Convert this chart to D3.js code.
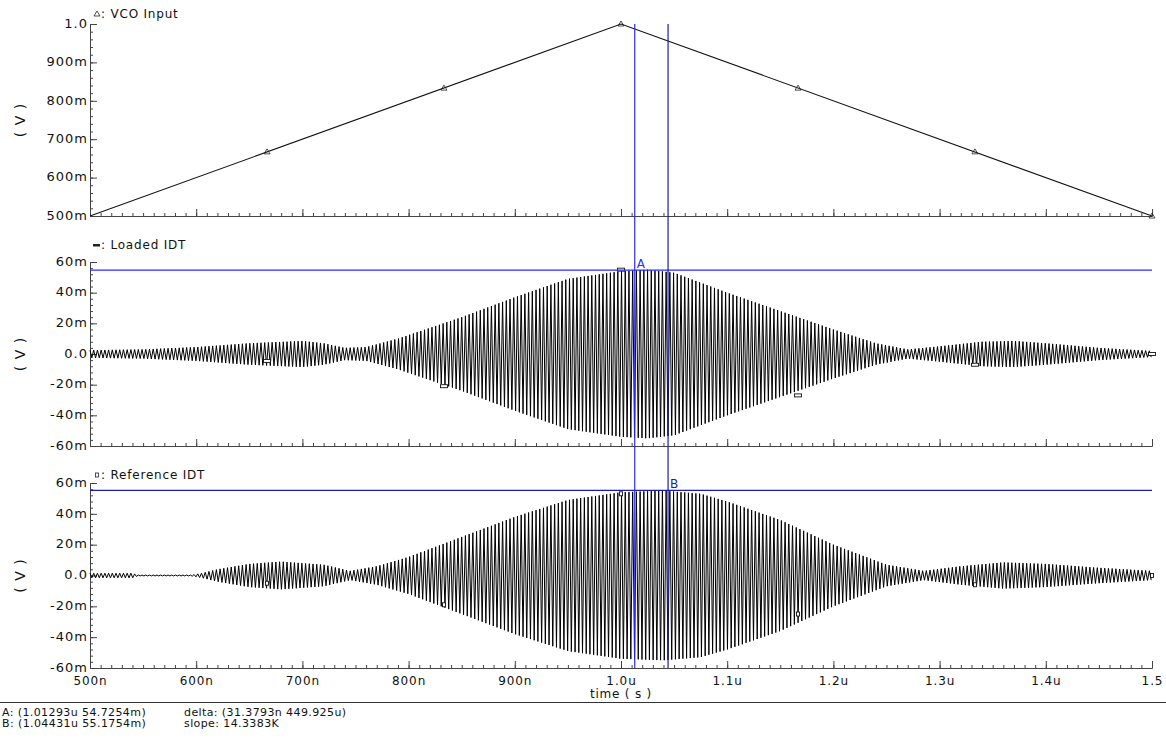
<!DOCTYPE html>
<html>
<head>
<meta charset="utf-8">
<script src="https://cdn.jsdelivr.net/npm/d3@7"></script>
<style>
  body { margin: 0; background: #fff; }
  svg text { font-family: "DejaVu Sans", sans-serif; fill: #111; }
</style>
</head>
<body>
<div id="chart"></div>
<script>
// time axis, in ns
const timeTicks = [500, 600, 700, 800, 900, 1000, 1100, 1200, 1300, 1400, 1500];
const timeLabels = ["500n", "600n", "700n", "800n", "900n", "1.0u", "1.1u", "1.2u", "1.3u", "1.4u", "1.5"];

// VCO Input (V)
const vcoTime = [500, 1000, 1500];
const vcoVolt = [0.5, 1.0, 0.5];
const vcoTicks = [0.5, 0.6, 0.7, 0.8, 0.9, 1.0];
const vcoLabels = ["500m", "600m", "700m", "800m", "900m", "1.0"];

// marker positions shared by the three traces
const markTime = [666.7, 833.3, 1000, 1166.7, 1333.3, 1500];
const vcoMarkVal = [0.667, 0.833, 1.0, 0.833, 0.667, 0.5];

// IDT axes (mV)
const idtTicks = [-60, -40, -20, 0, 20, 40, 60];
const idtLabels = ["-60m", "-40m", "-20m", "0.0", "20m", "40m", "60m"];

// Loaded IDT envelope (mV)
const loadedEnvTime = [500, 550, 600, 650, 700, 720, 740, 760, 790, 820, 850, 900, 950, 1000, 1025, 1050, 1100, 1150, 1200, 1240, 1270, 1300, 1340, 1370, 1400, 1450, 1500];
const loadedEnv =     [2.5, 3, 4.5, 7, 8.5, 7, 4, 4.5, 10, 17, 24, 37, 49, 54, 55, 53, 40, 28, 16, 7, 3, 5, 8, 8.5, 7, 4, 2];
const loadedMarkVal = [-4.5, -21, 55, -27, -7, 0];

// Reference IDT envelope (mV)
const refEnvTime = [500, 540, 545, 595, 605, 620, 650, 680, 720, 745, 770, 800, 850, 900, 950, 1000, 1040, 1075, 1100, 1150, 1200, 1250, 1285, 1320, 1360, 1400, 1450, 1500];
const refEnv =     [1.5, 1.5, 0.3, 0.3, 1.5, 4, 7.5, 9, 7, 3, 6, 12, 25, 38, 49, 54, 55, 53, 48, 36, 20, 7, 3, 6, 8.5, 7.5, 5, 3];
const refMarkVal = [-5, -19, 53, -25, -6, 0];

const carrierPeriod = 3.5; // ns, carrier drawn from the envelopes

// cursors
const cursorA = { t: 1012.93, v: 54.7254 };
const cursorB = { t: 1044.31, v: 55.1754 };
const cursorText = [
  ["A: (1.01293u 54.7254m)", "delta: (31.3793n 449.925u)"],
  ["B: (1.04431u 55.1754m)", "slope: 14.3383K"]
];

const width = 1166, height = 738;
const svg = d3.select("#chart").append("svg")
  .attr("width", width).attr("height", height);

const x = d3.scaleLinear().domain([500, 1500]).range([90, 1152]);

const panels = [
  { name: "VCO Input", domain: [0.5, 1.0], range: [216, 24], ticks: vcoTicks, labels: vcoLabels, minor: 0.02, titleY: 18, sym: "tri" },
  { name: "Loaded IDT", domain: [-60, 60], range: [446, 262], ticks: idtTicks, labels: idtLabels, minor: 4, titleY: 249, sym: "dash" },
  { name: "Reference IDT", domain: [-60, 60], range: [668, 483], ticks: idtTicks, labels: idtLabels, minor: 4, titleY: 479, sym: "box" }
];
panels.forEach(p => { p.y = d3.scaleLinear().domain(p.domain).range(p.range); });

const axisColor = "#444";
const minorX = d3.range(500, 1500.1, 10);

panels.forEach((p, pi) => {
  const g = svg.append("g");
  const last = pi === panels.length - 1;

  // x axis: minor then major ticks pointing up
  g.append("g").attr("transform", `translate(0,${p.range[0]})`)
    .call(d3.axisBottom(x).tickValues(minorX).tickSize(-3).tickSizeOuter(0).tickFormat(""));
  const xa = g.append("g").attr("transform", `translate(0,${p.range[0]})`)
    .call(d3.axisBottom(x).tickValues(timeTicks).tickSize(-7).tickSizeOuter(0).tickPadding(8)
      .tickFormat((d, i) => last ? timeLabels[i] : ""));
  xa.selectAll("text").style("font-size", "12px").style("letter-spacing", "0.9px");

  // y axis
  const minorY = d3.range(p.domain[0], p.domain[1] + p.minor / 2, p.minor);
  g.append("g").attr("transform", `translate(${x.range()[0]},0)`)
    .call(d3.axisLeft(p.y).tickValues(minorY).tickSize(-3).tickSizeOuter(0).tickFormat(""));
  const ya = g.append("g").attr("transform", `translate(${x.range()[0]},0)`)
    .call(d3.axisLeft(p.y).tickValues(p.ticks).tickSize(-7).tickSizeOuter(0).tickPadding(2)
      .tickFormat((d, i) => p.labels[i]));
  ya.selectAll("text").style("font-size", "13px").style("letter-spacing", "1px")
    .attr("dy", "0.25em");

  g.selectAll(".domain, .tick line").attr("stroke", axisColor);

  // y unit
  g.append("text")
    .attr("transform", `translate(25,${(p.range[0] + p.range[1]) / 2}) rotate(-90)`)
    .attr("text-anchor", "middle")
    .style("font-size", "14px").style("letter-spacing", "1px")
    .text("( V )");

  // legend title
  const sx = 97, sy = p.titleY - 4;
  if (p.sym === "tri") {
    g.append("path").attr("d", `M${sx - 3},${sy + 2}L${sx},${sy - 3}L${sx + 3},${sy + 2}Z`)
      .attr("fill", "none").attr("stroke", "#222").attr("stroke-width", 0.8);
  } else if (p.sym === "dash") {
    g.append("rect").attr("x", sx - 4).attr("y", sy - 1).attr("width", 7).attr("height", 2.5).attr("fill", "#222");
  } else {
    g.append("rect").attr("x", sx - 1.5).attr("y", sy - 2).attr("width", 3).attr("height", 4)
      .attr("fill", "none").attr("stroke", "#222").attr("stroke-width", 0.8);
  }
  g.append("text").attr("x", sx + 4).attr("y", p.titleY)
    .style("font-size", "12px").style("letter-spacing", "0.8px")
    .text(": " + p.name);
});

// VCO trace
const vcoP = panels[0];
svg.append("path")
  .datum(vcoTime.map((t, i) => [t, vcoVolt[i]]))
  .attr("fill", "none").attr("stroke", "#111").attr("stroke-width", 1.1)
  .attr("d", d3.line().x(d => x(d[0])).y(d => vcoP.y(d[1])));

svg.append("g").selectAll("path")
  .data(markTime.map((t, i) => [t, vcoMarkVal[i]]))
  .join("path")
  .attr("d", d => {
    const cx = x(d[0]), cy = vcoP.y(d[1]);
    return `M${cx - 3},${cy + 2}L${cx},${cy - 3}L${cx + 3},${cy + 2}Z`;
  })
  .attr("fill", "none").attr("stroke", "#222").attr("stroke-width", 0.8);

// IDT traces: carrier drawn between +env and -env
function drawIdt(p, envTime, env, markVal, markW, markH) {
  const envAt = d3.scaleLinear().domain(envTime).range(env).clamp(true);
  const pts = [];
  let k = 0;
  for (let t = 500; t <= 1500; t += carrierPeriod / 2, k++) {
    pts.push([t, (k % 2 ? -1 : 1) * envAt(t)]);
  }
  svg.append("path")
    .datum(pts)
    .attr("fill", "none").attr("stroke", "#000").attr("stroke-width", 1)
    .attr("d", d3.line().x(d => x(d[0])).y(d => p.y(d[1])));

  svg.append("g").selectAll("rect")
    .data(markTime.map((t, i) => [t, markVal[i]]))
    .join("rect")
    .attr("x", d => x(d[0]) - markW / 2)
    .attr("y", d => p.y(d[1]) - markH / 2)
    .attr("width", markW).attr("height", markH)
    .attr("fill", "#fff").attr("stroke", "#111").attr("stroke-width", 0.9);
}
drawIdt(panels[1], loadedEnvTime, loadedEnv, loadedMarkVal, 7, 3);
drawIdt(panels[2], refEnvTime, refEnv, refMarkVal, 3, 4);

// cursors
const mid = panels[1], bot = panels[2];
const blueA = "#2a2aff", blueB = "#1c1cb0";
svg.append("line")
  .attr("x1", x.range()[0]).attr("x2", x.range()[1])
  .attr("y1", mid.y(cursorA.v)).attr("y2", mid.y(cursorA.v))
  .attr("stroke", blueA).attr("stroke-width", 1.2);
svg.append("line")
  .attr("x1", x.range()[0]).attr("x2", x.range()[1])
  .attr("y1", bot.y(cursorB.v)).attr("y2", bot.y(cursorB.v))
  .attr("stroke", blueB).attr("stroke-width", 1.2);
svg.append("line")
  .attr("x1", x(cursorA.t)).attr("x2", x(cursorA.t))
  .attr("y1", vcoP.range[1]).attr("y2", bot.range[0])
  .attr("stroke", blueA).attr("stroke-width", 1.2);
svg.append("line")
  .attr("x1", x(cursorB.t)).attr("x2", x(cursorB.t))
  .attr("y1", vcoP.range[1]).attr("y2", bot.range[0])
  .attr("stroke", blueB).attr("stroke-width", 1.2);

svg.append("text").attr("x", x(cursorA.t) + 2).attr("y", mid.y(cursorA.v) - 2)
  .style("font-size", "12px").style("fill", blueA).text("A");
svg.append("text").attr("x", x(cursorB.t) + 2).attr("y", bot.y(cursorB.v) - 2)
  .style("font-size", "12px").style("fill", blueB).text("B");

// x title
svg.append("text").attr("x", 621).attr("y", 698)
  .attr("text-anchor", "middle")
  .style("font-size", "12px").style("letter-spacing", "0.8px")
  .text("time ( s )");

// cursor readout
svg.append("line").attr("x1", 0).attr("x2", width).attr("y1", 702.5).attr("y2", 702.5)
  .attr("stroke", "#333").attr("stroke-width", 1);
cursorText.forEach((row, i) => {
  svg.append("text").attr("x", 2).attr("y", 716 + i * 11)
    .style("font-size", "11px").style("letter-spacing", "0.4px").text(row[0]);
  svg.append("text").attr("x", 184).attr("y", 716 + i * 11)
    .style("font-size", "11px").style("letter-spacing", "0.4px").text(row[1]);
});
</script>
</body>
</html>
